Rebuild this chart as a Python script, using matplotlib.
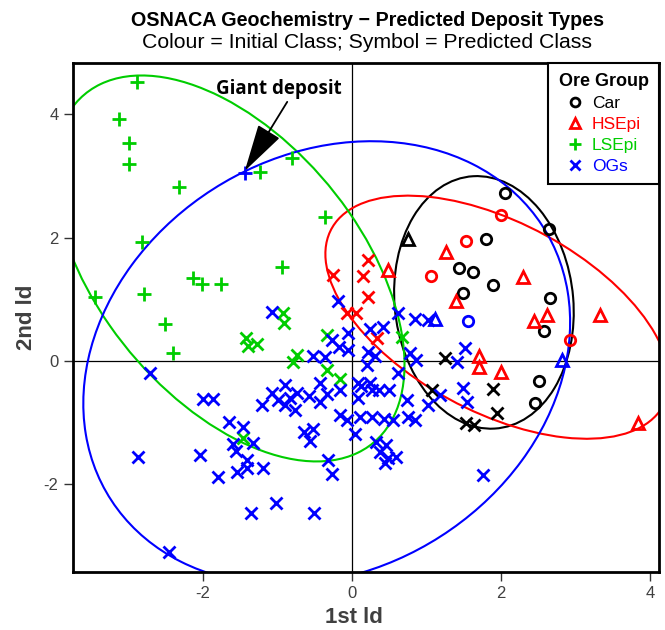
import matplotlib
matplotlib.use("Agg")
import matplotlib.pyplot as plt
from matplotlib.patches import Ellipse
from matplotlib.lines import Line2D

plt.rcParams['font.family'] = ['Liberation Sans', 'DejaVu Sans']
plt.rcParams['axes.unicode_minus'] = False

# Colour = initial class, symbol = predicted class
# Car (black)
car_car_x = [2.05, 2.64, 1.80, 1.44, 1.62, 1.89, 1.49, 2.66, 2.58, 2.51, 2.46]
car_car_y = [2.72, 2.14, 1.98, 1.51, 1.44, 1.23, 1.10, 1.02, 0.49, -0.32, -0.68]
car_hse_x = [0.75]
car_hse_y = [1.98]
car_ogs_x = [1.25, 1.07, 1.89, 1.95, 1.53, 1.64]
car_ogs_y = [0.05, -0.47, -0.45, -0.84, -1.00, -1.04]

# HSEpi (red)
hse_car_x = [2.00, 1.53, 1.06, 2.93]
hse_car_y = [2.37, 1.95, 1.38, 0.34]
hse_hse_x = [1.26, 0.48, 2.30, 1.40, 2.44, 2.62, 3.33, 1.70, 1.70, 2.00, 3.84]
hse_hse_y = [1.77, 1.48, 1.36, 0.97, 0.65, 0.75, 0.75, 0.08, -0.10, -0.18, -1.00]
hse_ogs_x = [0.21, -0.26, 0.15, 0.21, -0.07, 0.05, 0.34]
hse_ogs_y = [1.64, 1.39, 1.38, 1.04, 0.78, 0.78, 0.37]

# LSEpi (green)
lse_lse_x = [-2.89, -3.13, -2.99, -2.99, -2.32, -1.23, -0.81, -0.36, -2.82,
             -0.94, -2.13, -2.01, -1.76, -2.79, -3.45, -2.51, -2.40]
lse_lse_y = [4.52, 3.92, 3.53, 3.19, 2.82, 3.06, 3.29, 2.33, 1.93,
             1.52, 1.35, 1.25, 1.25, 1.09, 1.04, 0.60, 0.13]
lse_ogs_x = [-0.93, -0.91, -1.42, -1.40, -1.27, -0.74, -0.79, -0.34, -0.34,
             -0.16, -1.46, 0.67]
lse_ogs_y = [0.78, 0.62, 0.37, 0.24, 0.28, 0.10, -0.02, 0.42, -0.15,
             -0.29, -1.25, 0.39]

# OGs (blue)
ogs_car_x = [1.56]
ogs_car_y = [0.65]
ogs_hse_x = [1.11, 2.82]
ogs_hse_y = [0.68, 0.02]
ogs_lse_x = [-1.44]
ogs_lse_y = [3.05]
ogs_ogs_x = [-1.07, -2.71, -2.00, -1.87, -1.65, -1.46, -1.21, -1.07, -0.90, -0.74,
             -0.58, -0.52, -0.36, -0.19, -0.27, -0.05, -0.17, -0.05, 0.24, 0.42,
             0.62, 0.85, 1.02, 0.21, 0.31, 0.20, -0.43, 0.08, 0.24, 0.62,
             0.78, 0.86, 0.36, 0.50, 1.52, 1.41, 1.49, 1.54, 1.76, 1.18,
             1.02, 0.74, 0.85, 0.75, 0.43, 0.55, 0.32, 0.46, 0.48, 0.59,
             0.44, 0.38, 0.11, 0.27, 0.12, 0.27, 0.08, 0.04, -0.32, -0.27,
             -0.34, -0.43, -0.16, -0.07, -0.64, -0.52, -0.56, -0.16, -1.60, -1.56,
             -1.33, -1.41, -1.41, -1.54, -1.19, -1.80, -2.04, -0.99, -0.90, -0.77,
             -0.83, -2.87, -1.36, -1.02, -0.51, -2.46]
ogs_ogs_y = [0.79, -0.19, -0.62, -0.62, -0.99, -1.07, -0.71, -0.52, -0.39, -0.52,
             -0.57, 0.08, 0.06, 0.97, 0.34, 0.45, 0.23, 0.18, 0.52, 0.55,
             0.78, 0.68, 0.66, 0.15, 0.08, -0.06, -0.36, -0.36, -0.36, -0.19,
             0.13, 0.02, -0.47, -0.47, 0.21, -0.02, -0.44, -0.66, -1.85, -0.55,
             -0.71, -0.63, -0.96, -0.91, -0.94, -0.96, -1.31, -1.36, -1.57, -1.56,
             -1.65, -1.48, -0.91, -0.91, -0.41, -0.47, -0.60, -1.18, -1.60, -1.83,
             -0.54, -0.66, -0.88, -0.96, -1.15, -1.10, -1.30, -0.47, -1.35, -1.46,
             -1.33, -1.60, -1.73, -1.80, -1.73, -1.88, -1.52, -0.63, -0.71, -0.79,
             -0.60, -1.56, -2.46, -2.30, -2.46, -3.10]

# group ellipses: Car, HSEpi, LSEpi, OGs
ell_cx = [1.77, 1.95, -1.65, -0.34]
ell_cy = [0.95, 0.71, 1.50, -0.03]
ell_w = [2.40, 5.32, 6.90, 7.54]
ell_h = [4.10, 2.92, 3.70, 6.12]
ell_ang = [4, -36.5, 120, 58.7]

groups = ['Car', 'HSEpi', 'LSEpi', 'OGs']
colours = ['black', '#FF0000', '#00CD00', '#0000FF']
symbols = ['o', '^', '+', 'x']
sizes = [7.5, 9, 10, 9]

fig = plt.figure(figsize=(6.65, 6.3), dpi=100)
ax = fig.add_axes([0.1098, 0.0925, 0.8812, 0.808])

ax.axhline(0, color='black', lw=0.9, zorder=1)
ax.axvline(0, color='black', lw=0.9, zorder=1)

def pts(x, y, colour, pred):
    i = groups.index(pred)
    ax.plot(x, y, linestyle='none', marker=symbols[i], ms=sizes[i],
            mfc='none', mec=colour, mew=2.0, zorder=3)

pts(car_car_x, car_car_y, colours[0], 'Car')
pts(car_hse_x, car_hse_y, colours[0], 'HSEpi')
pts(car_ogs_x, car_ogs_y, colours[0], 'OGs')
pts(hse_car_x, hse_car_y, colours[1], 'Car')
pts(hse_hse_x, hse_hse_y, colours[1], 'HSEpi')
pts(hse_ogs_x, hse_ogs_y, colours[1], 'OGs')
pts(lse_lse_x, lse_lse_y, colours[2], 'LSEpi')
pts(lse_ogs_x, lse_ogs_y, colours[2], 'OGs')
pts(ogs_ogs_x, ogs_ogs_y, colours[3], 'OGs')
pts(ogs_car_x, ogs_car_y, colours[3], 'Car')
pts(ogs_hse_x, ogs_hse_y, colours[3], 'HSEpi')
pts(ogs_lse_x, ogs_lse_y, colours[3], 'LSEpi')

for i in range(4):
    e = Ellipse((ell_cx[i], ell_cy[i]), ell_w[i], ell_h[i], angle=ell_ang[i],
                fill=False, edgecolor=colours[i], lw=1.5, zorder=2)
    ax.add_patch(e)

# giant deposit label + arrow
ax.text(-0.98, 4.41, 'Giant deposit', ha='center', va='center', fontsize=13.5,
        fontweight='bold', family=['Open Sans', 'DejaVu Sans'])
ax.annotate('', xy=(ogs_lse_x[0], ogs_lse_y[0] + 0.03), xytext=(-0.87, 4.2),
            arrowprops=dict(arrowstyle='-|>,head_length=1.5,head_width=0.4',
                            color='black', lw=1.3, mutation_scale=20,
                            shrinkA=0, shrinkB=0))

ax.set_xlim(-3.745, 4.12)
ax.set_ylim(-3.415, 4.835)
ax.set_xticks([-2, 0, 2, 4])
ax.set_yticks([-2, 0, 2, 4])
ax.tick_params(direction='out', length=6.5, width=1, colors='#333333',
               labelsize=12, labelcolor='#404040', pad=4)
for s in ax.spines.values():
    s.set_linewidth(2.0)
ax.set_xlabel('1st ld', fontsize=16, fontweight='bold', color='#404040')
ax.set_ylabel('2nd ld', fontsize=16, fontweight='bold', color='#404040')
ax.xaxis.set_label_coords(0.4795, -0.07)
ax.yaxis.set_label_coords(-0.062, 0.5)

handles = [Line2D([], [], linestyle='none', marker=symbols[i], ms=sizes[i] * 0.85,
                  mfc='none', mec=colours[i], mew=2) for i in range(4)]
leg = ax.legend(handles, groups, loc='upper right', borderaxespad=0,
                title='Ore Group', fontsize=12.5, labelcolor=colours,
                fancybox=False, edgecolor='black', framealpha=1,
                handlelength=1.0, handletextpad=0.5, labelspacing=0.33,
                borderpad=0.6)
leg.get_title().set_fontweight('bold')
leg.get_title().set_fontsize(13)
leg.get_frame().set_linewidth(1.5)

fig.text(0.552, 0.967, 'OSNACA Geochemistry \u2212 Predicted Deposit Types',
         ha='center', va='center', fontsize=14.2, fontweight='bold')
fig.text(0.552, 0.933, 'Colour = Initial Class; Symbol = Predicted Class',
         ha='center', va='center', fontsize=15.3)

fig.savefig('out.png', dpi=100)
